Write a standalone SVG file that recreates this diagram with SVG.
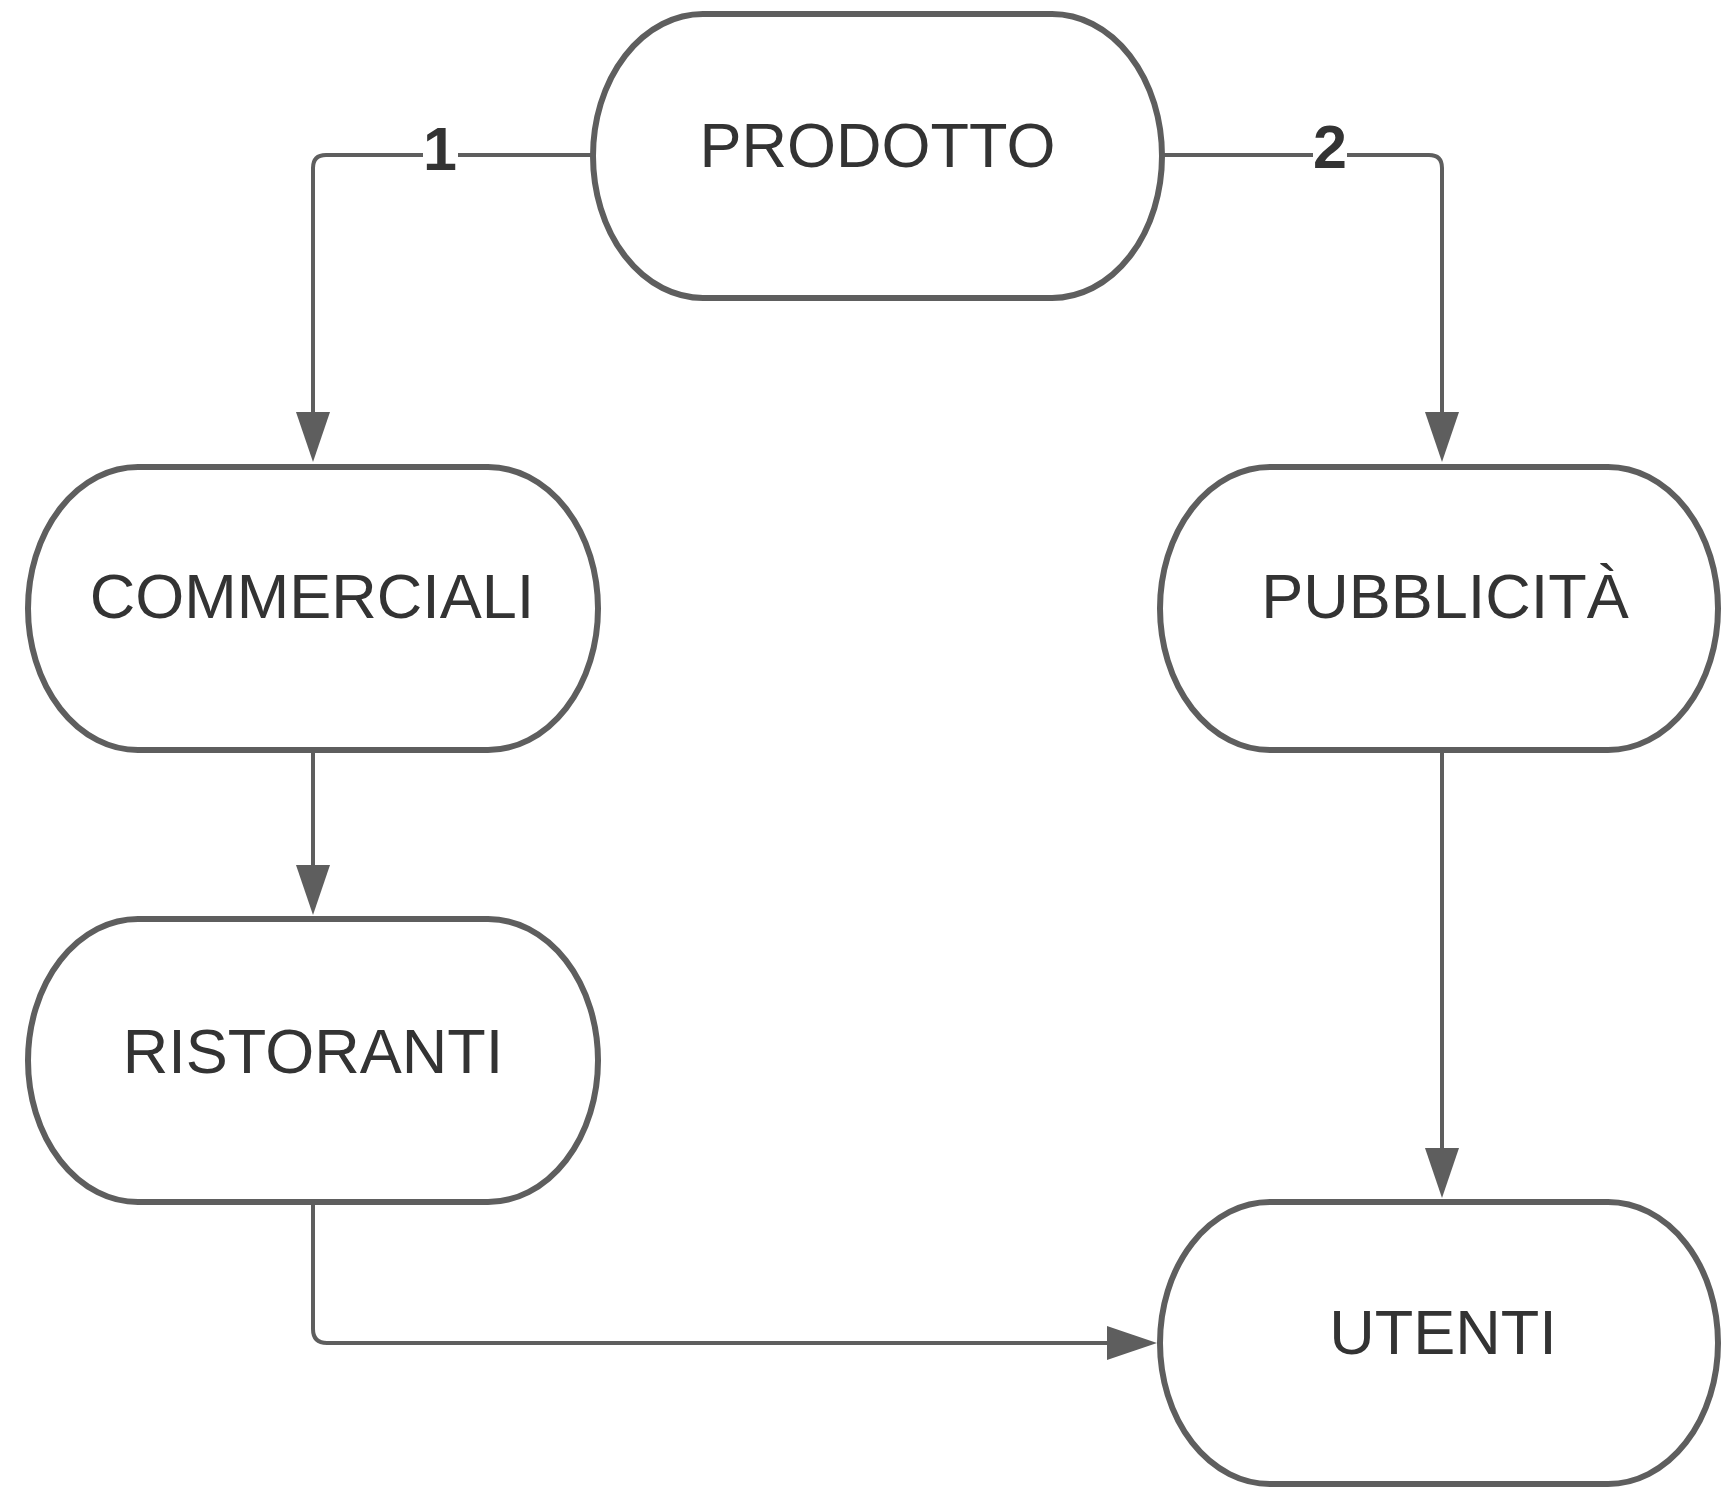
<svg xmlns="http://www.w3.org/2000/svg" width="1722" height="1487" viewBox="0 0 1722 1487">
<style>
.node{fill:#ffffff;stroke:#5e5e5e;stroke-width:6}
.lbl{font-family:"Liberation Sans",Arial,sans-serif;font-size:63px;fill:#333333;text-anchor:middle}
.conn{fill:none;stroke:#5e5e5e;stroke-width:4}
.num{font-family:"Liberation Sans",Arial,sans-serif;font-size:61px;font-weight:bold;fill:#333333;text-anchor:middle}
</style>
<defs>
<marker id="arr" markerUnits="userSpaceOnUse" viewBox="0 0 50 34" markerWidth="50" markerHeight="34" refX="10" refY="17" orient="auto">
<path d="M0,0 L50,17 L0,34 z" fill="#5e5e5e"/>
</marker>
</defs>
<rect width="1722" height="1487" fill="#ffffff"/>
<g id="connectors">
<path class="conn" d="M593,155 H326 Q313,155 313,168 V422" marker-end="url(#arr)"/>
<path class="conn" d="M1162,155 H1429 Q1442,155 1442,168 V422" marker-end="url(#arr)"/>
<path class="conn" d="M313,753 V875" marker-end="url(#arr)"/>
<path class="conn" d="M313,1205 V1329 Q313,1343 327,1343 H1117" marker-end="url(#arr)"/>
<path class="conn" d="M1442,753 V1158" marker-end="url(#arr)"/>
<rect x="423" y="130" width="35" height="45" fill="#ffffff"/>
<text class="num" x="440" y="170">1</text>
<rect x="1313" y="130" width="34" height="45" fill="#ffffff"/>
<text class="num" x="1330" y="168">2</text>
</g>
<g id="prodotto">
<rect class="node" x="593" y="14" width="569" height="284" rx="110" ry="142"/>
<text class="lbl" x="877.5" y="167">PRODOTTO</text>
</g>
<g id="commerciali">
<rect class="node" x="28" y="467" width="570" height="283" rx="110" ry="141.5"/>
<text class="lbl" x="312" y="618">COMMERCIALI</text>
</g>
<g id="ristoranti">
<rect class="node" x="28" y="919" width="570" height="283" rx="110" ry="141.5"/>
<text class="lbl" x="313" y="1073">RISTORANTI</text>
</g>
<g id="pubblicita">
<rect class="node" x="1160" y="467" width="558" height="283" rx="110" ry="141.5"/>
<text class="lbl" x="1445" y="618">PUBBLICITÀ</text>
</g>
<g id="utenti">
<rect class="node" x="1160" y="1202" width="558" height="282" rx="110" ry="141"/>
<text class="lbl" x="1443" y="1354">UTENTI</text>
</g>
</svg>
